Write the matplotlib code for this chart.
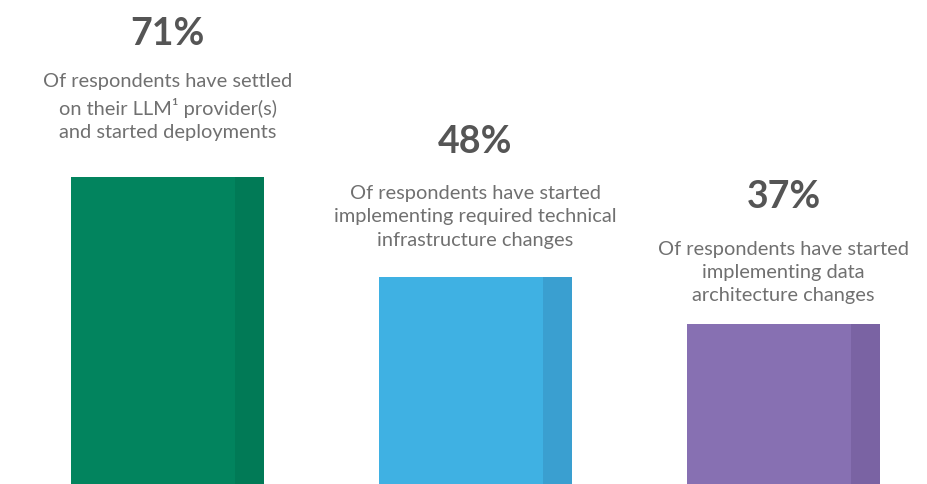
import matplotlib
matplotlib.use('Agg')
import matplotlib.pyplot as plt

# data
values = [71, 48, 37]
headlines = ['71%', '48%', '37%']
descriptions = [
    'Of respondents have settled\non their LLM\u00b9 provider(s)\nand started deployments',
    'Of respondents have started\nimplementing required technical\ninfrastructure changes',
    'Of respondents have started\nimplementing data\narchitecture changes',
]
colors = ['#02845e', '#3fb1e3', '#8770b2']
shade_colors = ['#017a56', '#3a9fd0', '#7a63a3']

# layout
bar_w = 0.627
shade_w = 0.094
label_gap_px = [37, 29, 21]

plt.rcParams['font.family'] = ['Lato', 'DejaVu Sans']

fig = plt.figure(figsize=(9.28, 4.85), dpi=100)
ax = fig.add_axes([0, 0, 1, 1])
x = list(range(len(values)))

ax.bar(x, values, width=bar_w, color=colors)
ax.bar([i + bar_w / 2 for i in x], values, width=-shade_w, align='edge', color=shade_colors)

for i, v in enumerate(values):
    ax.annotate(descriptions[i], xy=(i, v), xytext=(0, label_gap_px[i]),
                textcoords='offset pixels', ha='center', va='bottom',
                fontsize=14.4, color='#707070',
                linespacing=1.45, multialignment='center')
    ax.annotate(headlines[i], xy=(i, v), xytext=(0, label_gap_px[i] + 90),
                textcoords='offset pixels', ha='center', va='bottom',
                fontsize=27, fontweight='bold', color='#555555')

ax.set_xlim(-0.544, 2.469)
ax.set_ylim(0, 112.3)
ax.axis('off')

fig.savefig('out.png', dpi=100, facecolor='white')
